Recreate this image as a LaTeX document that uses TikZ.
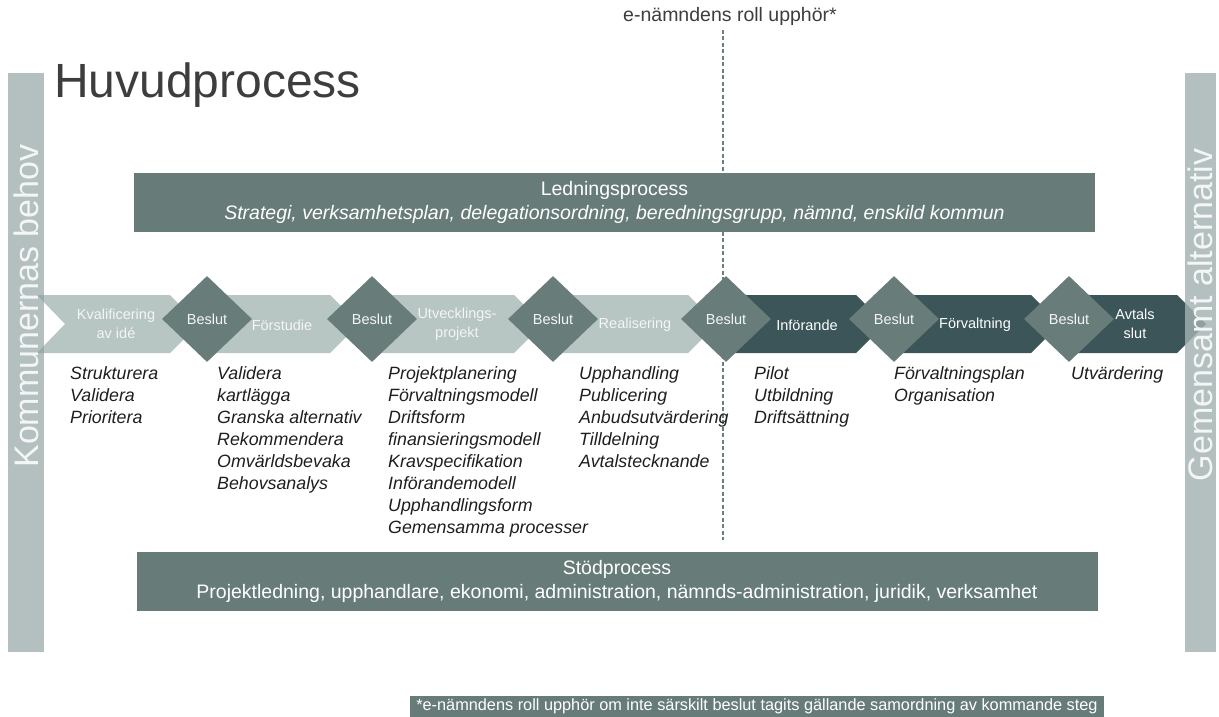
\documentclass[tikz,border=0pt]{standalone}
\usepackage{fontspec}
\setmainfont{Liberation Sans}
\usetikzlibrary{shapes.geometric}
\definecolor{barcol}{HTML}{B4C0BF}
\definecolor{lightarr}{HTML}{879E9B}
\definecolor{diacol}{HTML}{687D7A}
\definecolor{darkarr}{HTML}{3B5558}
\definecolor{boxcol}{HTML}{677C78}
\definecolor{titlecol}{HTML}{3D3D3D}
\definecolor{itemcol}{HTML}{1E1E1E}
\definecolor{paletext}{HTML}{F3F6F5}
\definecolor{dashcol}{HTML}{6B7F7C}
\newcommand\chevron[4]{%
  \path[#4] (#2,295) -- (#3,295) -- ({#3+29},324) -- (#3,353) -- (#2,353) -- ({#2+28},324) -- cycle;
  \coordinate (#1) at ({(#2+#3)/2},324);}
\newcommand\itemlist[4]{%
  \foreach \t [count=\i from 0] in {#4} {\node[itemtxt] (#1\i) at (#2,{#3+22*\i}) {\t};}}
\begin{document}
\begin{tikzpicture}[x=1pt,y=-1pt,
  lightstyle/.style={fill=lightarr, fill opacity=0.6},
  darkstyle/.style={fill=darkarr},
  lbl/.style={font=\fontsize{14.5}{18.5}\selectfont, text=paletext, align=center, inner sep=0},
  itemtxt/.style={font=\fontsize{17.8}{22}\selectfont\itshape, text=itemcol, anchor=base west, inner sep=0},
  dia/.style={diamond, fill=diacol, minimum width=90, minimum height=86, inner sep=0,
    font=\fontsize{14.5}{17}\selectfont, text=paletext},
  bar/.style={fill=barcol, minimum width=31, minimum height=579, inner sep=0},
  bartext/.style={rotate=90, font=\fontsize{34}{38}\selectfont, text=paletext, inner sep=0},
  procbox/.style={fill=boxcol, minimum width=961, minimum height=59, inner sep=0, align=center,
    font=\fontsize{19.5}{24.5}\selectfont, text=white},
  dashline/.style={draw=dashcol, line width=1.3pt, dash pattern=on 4pt off 2.5pt},
  ]
\useasboundingbox (0,0) rectangle (1219,717);
% top label and dashed line
\node[font=\fontsize{19.5}{22}\selectfont, text=titlecol, anchor=base, inner sep=0] (toplabel) at (730,22) {e-nämndens roll upphör*};
\coordinate (dtop) at (723,30);
\coordinate (dbot) at (723,540);
\draw[dashline] (dtop) -- (dbot);
% title
\node[font=\fontsize{48}{52}\selectfont, text=titlecol, anchor=base west, inner sep=0] (title) at (54,98) {Huvudprocess};
% side bars
\node[bar, minimum width=36] (lbar) at (26,362.5) {};
\node[bar] (rbar) at (1200.5,362.5) {};
% process boxes
\node[procbox] (led) at (614.5,202.5) {Ledningsprocess\\{\itshape Strategi, verksamhetsplan, delegationsordning, beredningsgrupp, nämnd, enskild kommun}};
\node[procbox] (stod) at (617,581.5) {Stödprocess\\Projektledning, upphandlare, ekonomi, administration, nämnds-administration, juridik, verksamhet};
% chevrons
\chevron{a1}{37}{170}{lightstyle}
\chevron{a2}{207}{330}{lightstyle}
\chevron{a3}{372}{514}{lightstyle}
\chevron{a4}{553}{688}{lightstyle}
\chevron{a5}{726}{856}{darkstyle}
\chevron{a6}{894}{1031}{darkstyle}
\chevron{a7}{1069}{1177}{darkstyle}
% overlay of right bar over last tip
\fill[barcol, opacity=0.7] (1185,295) rectangle (1216,353);
% bar texts
\node[bartext] (ltext) at (26,306) {Kommunernas behov};
\node[bartext] (rtext) at (1200.5,315) {Gemensamt alternativ};
% diamonds
\node[dia] (d1) at (207,319) {Beslut};
\node[dia] (d2) at (372,319) {Beslut};
\node[dia] (d3) at (553,319) {Beslut};
\node[dia] (d4) at (726,319) {Beslut};
\node[dia] (d5) at (894,319) {Beslut};
\node[dia] (d6) at (1069,319) {Beslut};
% chevron labels
\node[lbl] (t1) at (116,324) {Kvalificering\\av idé};
\node[lbl] (t2) at (282,325) {Förstudie};
\node[lbl] (t3) at (457,324) {Utvecklings-\\projekt};
\node[lbl] (t4) at (635,325) {Realisering};
\node[lbl, text=white] (t5) at (807,325) {Införande};
\node[lbl, text=white] (t6) at (975,325) {Förvaltning};
\node[lbl, text=white] (t7) at (1135,324) {Avtals\\slut};
% activity lists
\itemlist{ca}{70}{379}{Strukturera,Validera,Prioritera}
\itemlist{cb}{217}{379}{Validera,kartlägga,Granska alternativ,Rekommendera,Omvärldsbevaka,Behovsanalys}
\itemlist{cc}{388}{379}{Projektplanering,Förvaltningsmodell,Driftsform,finansieringsmodell,Kravspecifikation,Införandemodell,Upphandlingsform,Gemensamma processer}
\itemlist{cd}{579}{379}{Upphandling,Publicering,Anbudsutvärdering,Tilldelning,Avtalstecknande}
\itemlist{ce}{754}{379}{Pilot,Utbildning,Driftsättning}
\itemlist{cf}{894}{379}{Förvaltningsplan,Organisation}
\itemlist{cg}{1071}{379}{Utvärdering}
% footnote
\node[fill=boxcol, minimum width=694, minimum height=21, inner sep=0, text=white,
  font=\fontsize{16.3}{18}\selectfont] (fn) at (757,706.5) {*e-nämndens roll upphör om inte särskilt beslut tagits gällande samordning av kommande steg};
\end{tikzpicture}
\end{document}
